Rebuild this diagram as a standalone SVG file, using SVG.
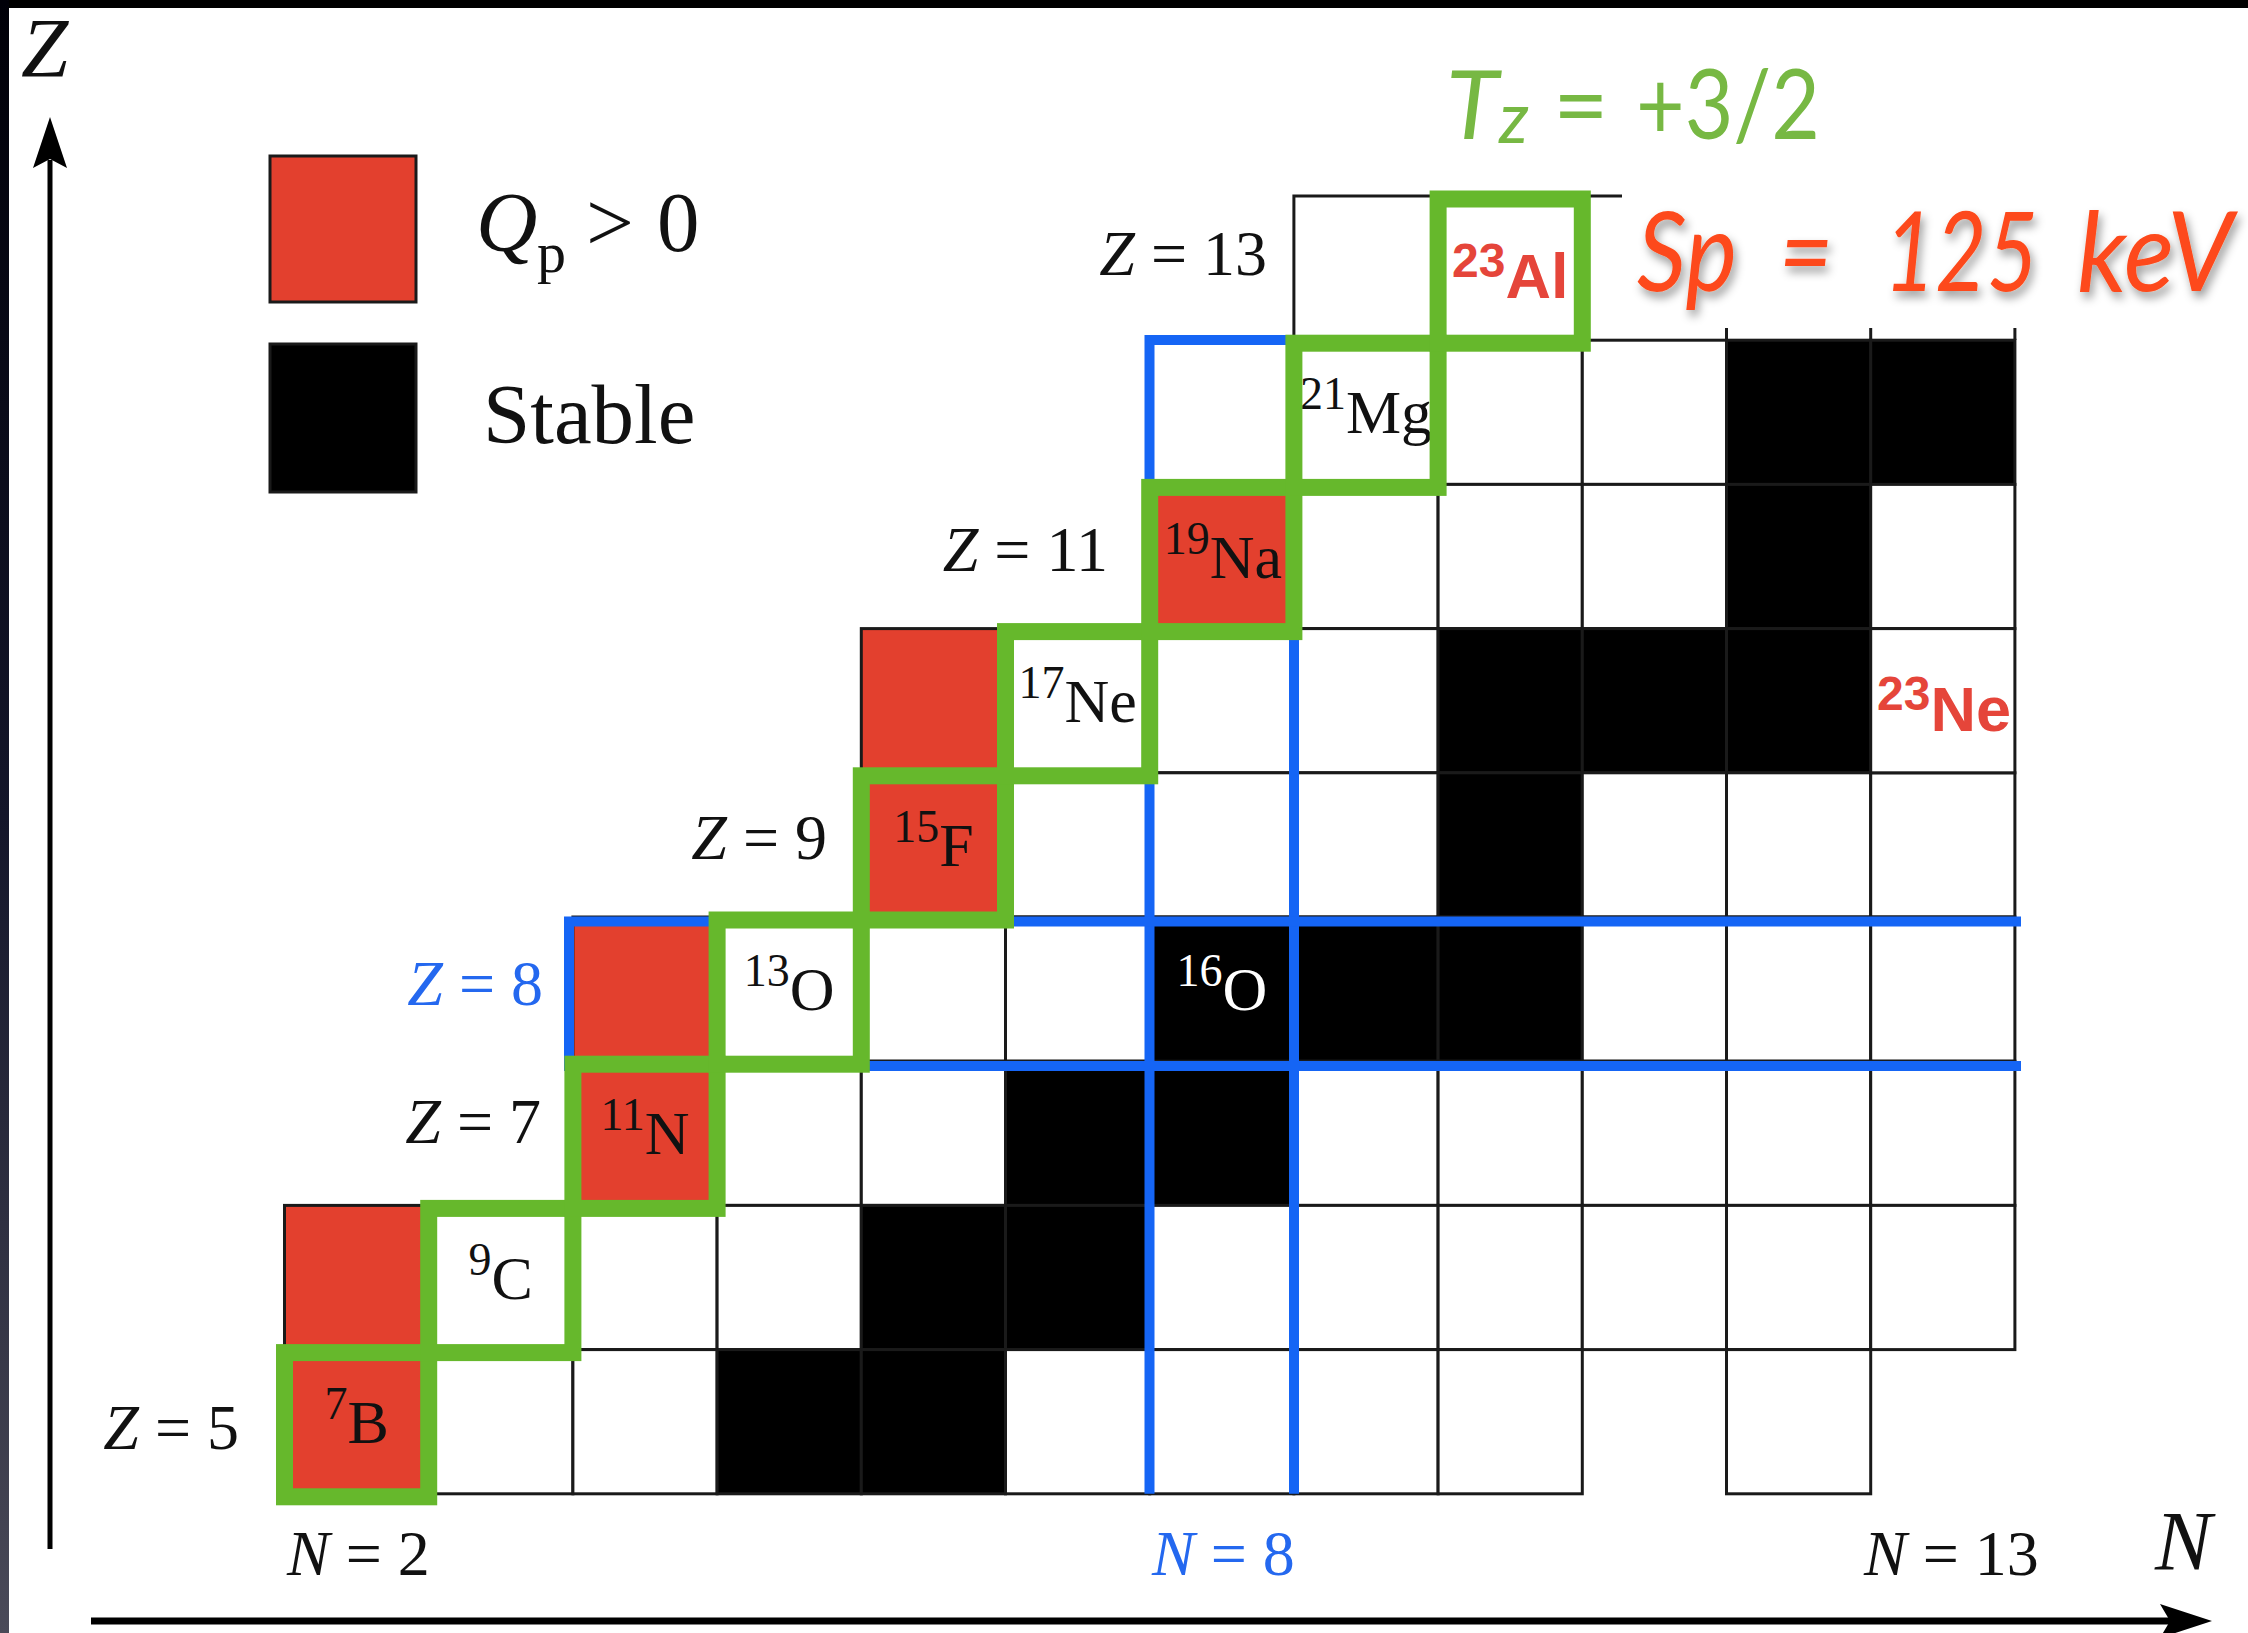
<svg xmlns="http://www.w3.org/2000/svg" width="2248" height="1633" viewBox="0 0 2248 1633">
<defs>
<style>
.g rect, rect.c {stroke:#1a1a1a; stroke-width:3}
.w {fill:#ffffff}
.k {fill:#000000}
.r {fill:#e3402e}
.lab {font-family:"Liberation Serif","Times New Roman",serif; font-size:62px; fill:#111}
.lab .s {font-size:46px}
.ax {font-family:"Liberation Serif","Times New Roman",serif; font-size:64px; fill:#111}
.big {font-size:85px}
.sub {font-size:58px}
.it {font-style:italic}
.bl {fill:#2468ef}
.hv {font-family:"Liberation Sans",Arial,sans-serif; font-weight:bold; fill:#e5453a; font-size:63px}
.hv .s {font-size:48px}
.tz {fill:none; stroke:#66b82c; stroke-width:17}
.blue {fill:none; stroke:#1565f5; stroke-width:10}
.axis {stroke:#000; fill:none}
.sp {font-family:Lato,"Open Sans",sans-serif; font-style:italic; font-size:110px; fill:#fd4a1a}
.tzl {font-family:Lato,"Open Sans",sans-serif; fill:#77b843}
</style>
<linearGradient id="edge" x1="0" y1="0" x2="0" y2="1">
<stop offset="0" stop-color="#000008"/>
<stop offset="0.5" stop-color="#14162a"/>
<stop offset="1" stop-color="#4a4a58"/>
</linearGradient>
<filter id="shadow" x="-10%" y="-30%" width="120%" height="160%">
<feDropShadow dx="3" dy="6" stdDeviation="5" flood-color="#000" flood-opacity="0.4"/>
</filter>
</defs>
<rect x="0" y="0" width="2248" height="1633" fill="#ffffff"/>
<rect x="0" y="0" width="2248" height="8" fill="#000"/>
<rect x="0" y="0" width="9" height="1633" fill="url(#edge)"/>

<!-- legend -->
<g id="legend">
<rect class="c r" x="270" y="156" width="146" height="146"/>
<rect class="c k" x="270" y="344" width="146" height="148"/>
<text class="ax big it" x="476" y="251">Q</text>
<text class="ax sub" x="537" y="272">p</text>
<text class="ax big" x="586" y="251">&gt;</text>
<text class="ax big" x="657" y="251">0</text>
<text class="ax big" x="483" y="443">Stable</text>
</g>

<!-- plain grid cells -->
<g id="grid" class="g">
<rect class="w" x="1293.9" y="196" width="144.2" height="144.2"/>
<rect class="w" x="1149.7" y="340.2" width="144.2" height="144.2"/>
<rect class="w" x="1438.1" y="340.2" width="144.2" height="144.2"/>
<rect class="w" x="1582.3" y="340.2" width="144.2" height="144.2"/>
<rect class="k" x="1726.5" y="340.2" width="144.2" height="144.2"/>
<rect class="k" x="1870.7" y="340.2" width="144.2" height="144.2"/>
<rect class="w" x="1293.9" y="484.4" width="144.2" height="144.2"/>
<rect class="w" x="1438.1" y="484.4" width="144.2" height="144.2"/>
<rect class="w" x="1582.3" y="484.4" width="144.2" height="144.2"/>
<rect class="k" x="1726.5" y="484.4" width="144.2" height="144.2"/>
<rect class="w" x="1870.7" y="484.4" width="144.2" height="144.2"/>
<rect class="r" x="861.3" y="628.6" width="144.2" height="144.2"/>
<rect class="w" x="1149.7" y="628.6" width="144.2" height="144.2"/>
<rect class="w" x="1293.9" y="628.6" width="144.2" height="144.2"/>
<rect class="k" x="1438.1" y="628.6" width="144.2" height="144.2"/>
<rect class="k" x="1582.3" y="628.6" width="144.2" height="144.2"/>
<rect class="k" x="1726.5" y="628.6" width="144.2" height="144.2"/>
<rect class="w" x="1005.5" y="772.8" width="144.2" height="144.2"/>
<rect class="w" x="1149.7" y="772.8" width="144.2" height="144.2"/>
<rect class="w" x="1293.9" y="772.8" width="144.2" height="144.2"/>
<rect class="k" x="1438.1" y="772.8" width="144.2" height="144.2"/>
<rect class="w" x="1582.3" y="772.8" width="144.2" height="144.2"/>
<rect class="w" x="1726.5" y="772.8" width="144.2" height="144.2"/>
<rect class="w" x="1870.7" y="772.8" width="144.2" height="144.2"/>
<rect class="r" x="572.9" y="917" width="144.2" height="144.2"/>
<rect class="w" x="861.3" y="917" width="144.2" height="144.2"/>
<rect class="w" x="1005.5" y="917" width="144.2" height="144.2"/>
<rect class="k" x="1293.9" y="917" width="144.2" height="144.2"/>
<rect class="k" x="1438.1" y="917" width="144.2" height="144.2"/>
<rect class="w" x="1582.3" y="917" width="144.2" height="144.2"/>
<rect class="w" x="1726.5" y="917" width="144.2" height="144.2"/>
<rect class="w" x="1870.7" y="917" width="144.2" height="144.2"/>
<rect class="w" x="717.1" y="1061.2" width="144.2" height="144.2"/>
<rect class="w" x="861.3" y="1061.2" width="144.2" height="144.2"/>
<rect class="k" x="1005.5" y="1061.2" width="144.2" height="144.2"/>
<rect class="k" x="1149.7" y="1061.2" width="144.2" height="144.2"/>
<rect class="w" x="1293.9" y="1061.2" width="144.2" height="144.2"/>
<rect class="w" x="1438.1" y="1061.2" width="144.2" height="144.2"/>
<rect class="w" x="1582.3" y="1061.2" width="144.2" height="144.2"/>
<rect class="w" x="1726.5" y="1061.2" width="144.2" height="144.2"/>
<rect class="w" x="1870.7" y="1061.2" width="144.2" height="144.2"/>
<rect class="r" x="284.5" y="1205.4" width="144.2" height="144.2"/>
<rect class="w" x="572.9" y="1205.4" width="144.2" height="144.2"/>
<rect class="w" x="717.1" y="1205.4" width="144.2" height="144.2"/>
<rect class="k" x="861.3" y="1205.4" width="144.2" height="144.2"/>
<rect class="k" x="1005.5" y="1205.4" width="144.2" height="144.2"/>
<rect class="w" x="1149.7" y="1205.4" width="144.2" height="144.2"/>
<rect class="w" x="1293.9" y="1205.4" width="144.2" height="144.2"/>
<rect class="w" x="1438.1" y="1205.4" width="144.2" height="144.2"/>
<rect class="w" x="1582.3" y="1205.4" width="144.2" height="144.2"/>
<rect class="w" x="1726.5" y="1205.4" width="144.2" height="144.2"/>
<rect class="w" x="1870.7" y="1205.4" width="144.2" height="144.2"/>
<rect class="w" x="428.7" y="1349.6" width="144.2" height="144.2"/>
<rect class="w" x="572.9" y="1349.6" width="144.2" height="144.2"/>
<rect class="k" x="717.1" y="1349.6" width="144.2" height="144.2"/>
<rect class="k" x="861.3" y="1349.6" width="144.2" height="144.2"/>
<rect class="w" x="1005.5" y="1349.6" width="144.2" height="144.2"/>
<rect class="w" x="1149.7" y="1349.6" width="144.2" height="144.2"/>
<rect class="w" x="1293.9" y="1349.6" width="144.2" height="144.2"/>
<rect class="w" x="1438.1" y="1349.6" width="144.2" height="144.2"/>
<rect class="w" x="1726.5" y="1349.6" width="144.2" height="144.2"/>
<path d="M1582.3,196 H1622 M1726.5,328 V340 M1870.7,328 V340 M2014.9,328 V340" stroke="#1a1a1a" stroke-width="3" fill="none"/>
</g>

<!-- nuclei nodes -->
<g id="n-7B"><rect class="c r" x="284.5" y="1349.6" width="144.2" height="144.2"/>
<text class="lab" x="356.6" y="1442.7" text-anchor="middle"><tspan class="s" dy="-24">7</tspan><tspan dy="24">B</tspan></text></g>
<g id="n-9C"><rect class="c w" x="428.7" y="1205.4" width="144.2" height="144.2"/>
<text class="lab" x="500.8" y="1298.5" text-anchor="middle"><tspan class="s" dy="-24">9</tspan><tspan dy="24">C</tspan></text></g>
<g id="n-11N"><rect class="c r" x="572.9" y="1061.2" width="144.2" height="144.2"/>
<text class="lab" x="645" y="1154.3" text-anchor="middle"><tspan class="s" dy="-24">11</tspan><tspan dy="24">N</tspan></text></g>
<g id="n-13O"><rect class="c w" x="717.1" y="917" width="144.2" height="144.2"/>
<text class="lab" x="789.2" y="1010.1" text-anchor="middle"><tspan class="s" dy="-24">13</tspan><tspan dy="24">O</tspan></text></g>
<g id="n-15F"><rect class="c r" x="861.3" y="772.8" width="144.2" height="144.2"/>
<text class="lab" x="933.4" y="865.9" text-anchor="middle"><tspan class="s" dy="-24">15</tspan><tspan dy="24">F</tspan></text></g>
<g id="n-17Ne"><rect class="c w" x="1005.5" y="628.6" width="144.2" height="144.2"/>
<text class="lab" x="1077.6" y="721.7" text-anchor="middle"><tspan class="s" dy="-24">17</tspan><tspan dy="24">Ne</tspan></text></g>
<g id="n-19Na"><rect class="c r" x="1149.7" y="484.4" width="144.2" height="144.2"/>
<text class="lab" x="1222.8" y="577.5" text-anchor="middle"><tspan class="s" dy="-24">19</tspan><tspan dy="24">Na</tspan></text></g>
<g id="n-21Mg"><rect class="c w" x="1293.9" y="340.2" width="144.2" height="144.2"/>
<text class="lab" x="1366" y="433.3" text-anchor="middle"><tspan class="s" dy="-24">21</tspan><tspan dy="24">Mg</tspan></text></g>
<g id="n-23Al"><rect class="c w" x="1438.1" y="196" width="144.2" height="144.2"/>
<text class="hv" x="1510.2" y="298" text-anchor="middle"><tspan class="s" dy="-21">23</tspan><tspan dy="21">Al</tspan></text></g>
<g id="n-16O"><rect class="c k" x="1149.7" y="917" width="144.2" height="144.2"/>
<text class="lab" x="1221.8" y="1010.1" text-anchor="middle" style="fill:#fff"><tspan class="s" dy="-24">16</tspan><tspan dy="24">O</tspan></text></g>
<g id="n-23Ne"><rect class="c w" x="1870.7" y="628.6" width="144.2" height="144.2"/>
<text class="hv" x="1944" y="731" text-anchor="middle"><tspan class="s" dy="-21">23</tspan><tspan dy="21">Ne</tspan></text></g>

<!-- magic number lines and Tz=+3/2 chain -->
<g id="connectors">
<path class="blue" d="M1149.5,1493.8 V340 H1294 V1493.8"/>
<path class="blue" d="M2021,921.5 H569 V1066 H2021"/>
<g id="tz-chain">
<rect class="tz" x="284.5" y="1352.6" width="144.2" height="144.2"/>
<rect class="tz" x="428.7" y="1208.4" width="144.2" height="144.2"/>
<rect class="tz" x="572.9" y="1064.2" width="144.2" height="144.2"/>
<rect class="tz" x="717.1" y="920" width="144.2" height="144.2"/>
<rect class="tz" x="861.3" y="775.8" width="144.2" height="144.2"/>
<rect class="tz" x="1005.5" y="631.6" width="144.2" height="144.2"/>
<rect class="tz" x="1149.7" y="487.4" width="144.2" height="144.2"/>
<rect class="tz" x="1293.9" y="343.2" width="144.2" height="144.2"/>
<rect class="tz" x="1438.1" y="199" width="144.2" height="144.2"/>
</g>
<g id="axes">
<line class="axis" x1="50" y1="1549" x2="50" y2="160" stroke-width="5"/>
<path d="M50,117 L33,168 L50,159 L67,168 Z" fill="#000"/>
<line class="axis" x1="91" y1="1621" x2="2170" y2="1621" stroke-width="7"/>
<path d="M2212,1621 L2160,1604 L2170,1621 L2160,1638 Z" fill="#000"/>
</g>
</g>

<!-- axis labels -->
<g id="labels">
<text class="ax big it" x="21" y="77">Z</text>
<text class="ax big it" x="2155" y="1570">N</text>
<text class="ax" x="1267" y="275" text-anchor="end"><tspan class="it">Z</tspan> = 13</text>
<text class="ax" x="1108" y="571" text-anchor="end"><tspan class="it">Z</tspan> = 11</text>
<text class="ax" x="827" y="859" text-anchor="end"><tspan class="it">Z</tspan> = 9</text>
<text class="ax bl" x="543" y="1005" text-anchor="end"><tspan class="it">Z</tspan> = 8</text>
<text class="ax" x="541" y="1143" text-anchor="end"><tspan class="it">Z</tspan> = 7</text>
<text class="ax" x="239" y="1449" text-anchor="end"><tspan class="it">Z</tspan> = 5</text>
<text class="ax" x="287" y="1575"><tspan class="it">N</tspan> = 2</text>
<text class="ax bl" x="1152" y="1575"><tspan class="it">N</tspan> = 8</text>
<text class="ax" x="1864" y="1575"><tspan class="it">N</tspan> = 13</text>
</g>

<g id="tz-label">
<text class="tzl" x="1446" y="139" font-size="96" font-style="italic">T</text>
<text class="tzl" x="1499" y="143" font-size="70" font-style="italic">z</text>
<text class="tzl" x="1553" y="139" font-size="96">=</text>
<text class="tzl" x="1636" y="139" font-size="96" textLength="184" lengthAdjust="spacingAndGlyphs">+3/2</text>
</g>

<g id="sp-label" filter="url(#shadow)">
<text class="sp" x="1637" y="291" textLength="100" lengthAdjust="spacingAndGlyphs">Sp</text>
<text class="sp" x="1779" y="291" textLength="54" lengthAdjust="spacingAndGlyphs">=</text>
<text class="sp" x="1884" y="291" textLength="154" lengthAdjust="spacingAndGlyphs">125</text>
<text class="sp" x="2077" y="291" textLength="156" lengthAdjust="spacingAndGlyphs">keV</text>
</g>
</svg>
